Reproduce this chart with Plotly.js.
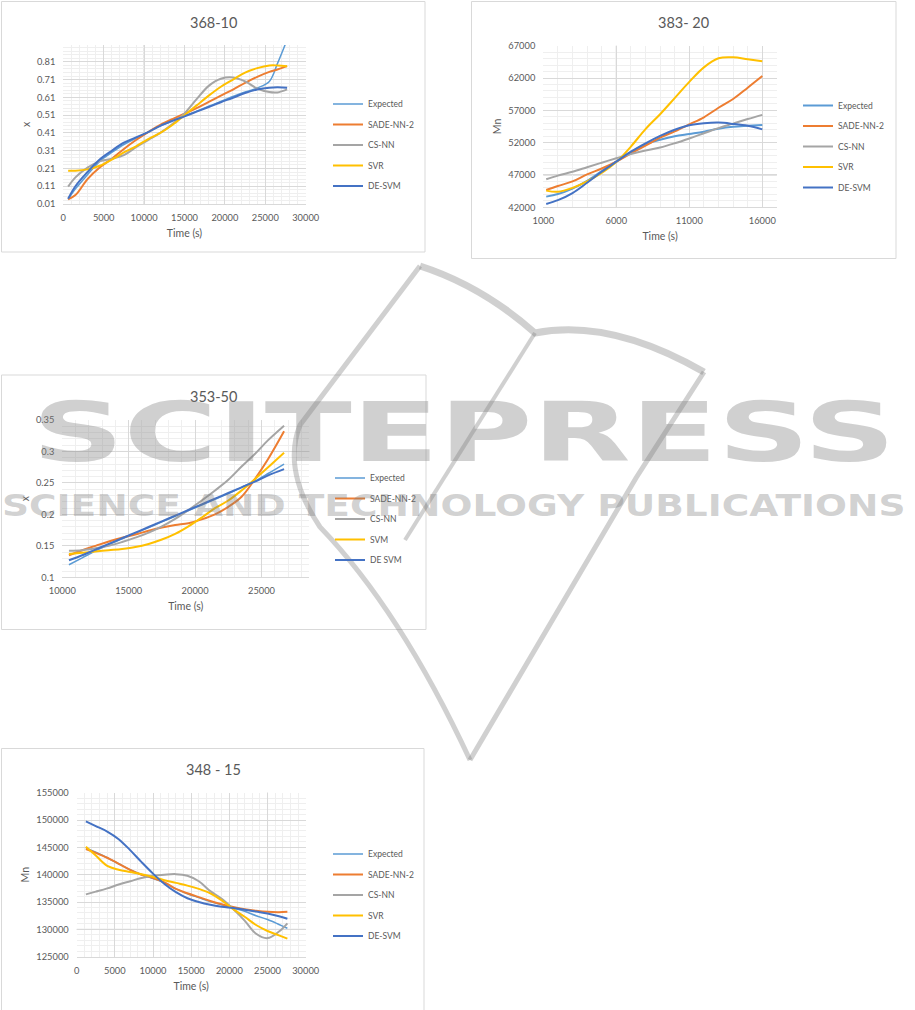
<!DOCTYPE html>
<html>
<head>
<meta charset="utf-8">
<script src="https://cdn.plot.ly/plotly-3.0.1.min.js"></script>
<style>
html,body{margin:0;padding:0;background:#fff;}
#wrap{position:relative;width:915px;height:1010px;overflow:hidden;}
#chart{width:915px;height:1010px;}
.wm{position:absolute;left:0;top:0;white-space:nowrap;font-family:'DejaVu Sans',sans-serif;font-weight:bold;color:rgba(125,125,125,0.36);pointer-events:none;transform-origin:0 0;line-height:1;}
</style>
</head>
<body>
<div id="wrap">
<div id="chart"></div>
<div class="wm" id="wm1">SCITEPRESS</div>
<div class="wm" id="wm2">SCIENCE AND TECHNOLOGY PUBLICATIONS</div>
</div>
<script>
// ---------------- DATA ----------------
const seriesNames = ['Expected', 'SADE-NN-2', 'CS-NN', 'SVR', 'DE-SVM'];
const seriesNames3 = ['Expected', 'SADE-NN-2', 'CS-NN', 'SVM', 'DE SVM'];
const seriesColors = ['#5B9BD5', '#ED7D31', '#A5A5A5', '#FFC000', '#4472C4'];

const chartTitles = ['368-10', '383- 20', '353-50', '348 - 15'];
const xTitle = 'Time (s)';
const yTitles = ['x', 'Mn', 'x', 'Mn'];

// Chart 1: 368-10
const c1Time = [600, 1500, 3000, 4500, 6000, 7500, 9000, 10500, 12000, 13500, 15000, 16500, 18000, 19500, 21000, 22500, 24000, 25500, 26500, 27700];
const c1Expected = [0.036, 0.095, 0.175, 0.25, 0.30, 0.345, 0.38, 0.415, 0.45, 0.478, 0.505, 0.532, 0.56, 0.588, 0.615, 0.64, 0.663, 0.70, 0.80, 0.935];
const c1Sade = [0.036, 0.06, 0.15, 0.215, 0.265, 0.32, 0.37, 0.415, 0.455, 0.488, 0.518, 0.55, 0.585, 0.62, 0.654, 0.692, 0.726, 0.754, 0.767, 0.786];
const c1CsNn = [0.108, 0.16, 0.215, 0.25, 0.265, 0.285, 0.33, 0.37, 0.41, 0.46, 0.52, 0.60, 0.675, 0.715, 0.722, 0.70, 0.66, 0.64, 0.638, 0.655];
const c1Svr = [0.197, 0.197, 0.205, 0.225, 0.26, 0.30, 0.335, 0.375, 0.41, 0.455, 0.51, 0.565, 0.62, 0.67, 0.71, 0.75, 0.775, 0.79, 0.79, 0.785];
const c1DeSvm = [0.04, 0.11, 0.19, 0.26, 0.31, 0.355, 0.385, 0.415, 0.45, 0.478, 0.503, 0.53, 0.556, 0.583, 0.608, 0.635, 0.655, 0.665, 0.667, 0.665];
const c1XTickLabels = ['0', '5000', '10000', '15000', '20000', '25000', '30000'];
const c1YTickLabels = ['0.01', '0.11', '0.21', '0.31', '0.41', '0.51', '0.61', '0.71', '0.81'];

// Chart 2: 383- 20
const c2Time = [1200, 2000, 3000, 4000, 5000, 6000, 7000, 8000, 9000, 10000, 11000, 12000, 13000, 14000, 15000, 16000];
const c2Expected = [43650, 44050, 44900, 46100, 47600, 49060, 50500, 51750, 52450, 53000, 53350, 53700, 54150, 54450, 54600, 54730];
const c2Sade = [44680, 45300, 46000, 47100, 48000, 49060, 50330, 51530, 52770, 53750, 54830, 55920, 57400, 58750, 60500, 62300];
const c2CsNn = [46330, 46900, 47500, 48200, 48900, 49580, 50250, 50800, 51250, 51900, 52650, 53450, 54250, 54950, 55650, 56300];
const c2Svr = [44580, 44400, 45000, 46000, 47300, 49000, 51400, 54100, 56400, 58900, 61400, 63650, 65050, 65200, 64900, 64600];
const c2DeSvm = [42520, 43100, 44200, 45800, 47500, 49060, 50600, 51900, 53050, 54000, 54700, 55000, 55100, 54900, 54600, 54050];
const c2XTickLabels = ['1000', '6000', '11000', '16000'];
const c2YTickLabels = ['42000', '47000', '52000', '57000', '62000', '67000'];

// Chart 3: 353-50
const c3Time = [10500, 11500, 12500, 13500, 14500, 15500, 16500, 17500, 18500, 19500, 20500, 21500, 22500, 23500, 24500, 25500, 26700];
const c3Expected = [0.12, 0.131, 0.142, 0.152, 0.161, 0.17, 0.179, 0.188, 0.197, 0.206, 0.215, 0.224, 0.233, 0.243, 0.253, 0.265, 0.28];
const c3Sade = [0.135, 0.143, 0.150, 0.157, 0.163, 0.168, 0.174, 0.179, 0.183, 0.186, 0.192, 0.200, 0.212, 0.228, 0.256, 0.288, 0.332];
const c3CsNn = [0.142, 0.143, 0.146, 0.150, 0.156, 0.163, 0.171, 0.181, 0.193, 0.207, 0.222, 0.238, 0.255, 0.276, 0.296, 0.318, 0.341];
const c3Svm = [0.137, 0.139, 0.141, 0.143, 0.145, 0.148, 0.153, 0.160, 0.169, 0.181, 0.195, 0.210, 0.222, 0.238, 0.256, 0.275, 0.298];
const c3DeSvm = [0.127, 0.135, 0.144, 0.153, 0.162, 0.171, 0.18, 0.189, 0.198, 0.207, 0.216, 0.225, 0.234, 0.243, 0.252, 0.262, 0.272];
const c3XTickLabels = ['10000', '15000', '20000', '25000'];
const c3YTickLabels = ['0.1', '0.15', '0.2', '0.25', '0.3', '0.35'];

// Chart 4: 348 - 15
const c4Time = [1200, 2500, 4000, 5500, 7000, 8500, 10000, 11500, 13000, 14500, 16000, 17500, 19000, 20500, 22000, 23500, 25000, 26500, 27600];
const c4Expected = [144900, 144100, 143100, 142000, 140900, 140000, 139300, 138500, 137400, 136500, 135800, 135100, 134500, 133900, 133300, 132500, 131800, 130900, 130200];
const c4Sade = [144700, 144000, 143100, 142000, 140900, 140000, 139400, 138600, 137400, 136600, 135900, 135200, 134600, 134100, 133700, 133400, 133200, 133150, 133200];
const c4CsNn = [136400, 136900, 137500, 138200, 138800, 139400, 139800, 140000, 140100, 139800, 138800, 137000, 135600, 133700, 131600, 129200, 128400, 129600, 131100];
const c4Svr = [145100, 143500, 141600, 140900, 140500, 140100, 139600, 139000, 138500, 138000, 137400, 136600, 135300, 133700, 132300, 130800, 129700, 128900, 128300];
const c4DeSvm = [149750, 148900, 147900, 146500, 144500, 142300, 140200, 138300, 136800, 135700, 135000, 134500, 134150, 133900, 133600, 133250, 132900, 132400, 131950];
const c4XTickLabels = ['0', '5000', '10000', '15000', '20000', '25000', '30000'];
const c4YTickLabels = ['125000', '130000', '135000', '140000', '145000', '150000', '155000'];

// ---------------- LAYOUT HELPERS ----------------
const W = 915, H = 1010;
const px = v => v / W;
const py = v => 1 - v / H;
const FONT = 'Lato, sans-serif';
const TXT = '#595959';

const traces = [];
function addChart(idx, t, series, labels, expectedWidth) {
  const s = idx === 1 ? '' : String(idx);
  series.forEach((ys, i) => {
    traces.push({
      type: 'scatter', mode: 'lines', x: t, y: ys, name: labels[i],
      xaxis: 'x' + s, yaxis: 'y' + s, legend: 'legend' + s,
      legendgroup: 'c' + idx + 's' + i,
      line: {color: seriesColors[i], width: i === 0 ? expectedWidth : 2, shape: 'spline', smoothing: 1},
      hoverinfo: 'skip'
    });
  });
}
addChart(1, c1Time, [c1Expected, c1Sade, c1CsNn, c1Svr, c1DeSvm], seriesNames, 1.5);
addChart(2, c2Time, [c2Expected, c2Sade, c2CsNn, c2Svr, c2DeSvm], seriesNames, 2);
addChart(3, c3Time, [c3Expected, c3Sade, c3CsNn, c3Svm, c3DeSvm], seriesNames3, 1.5);
addChart(4, c4Time, [c4Expected, c4Sade, c4CsNn, c4Svr, c4DeSvm], seriesNames, 1.5);

function axisBase(labels, range, minorTick0, minorDtick) {
  return {
    range: range, tickmode: 'array', tickvals: labels.map(Number), ticktext: labels,
    showgrid: true, gridcolor: '#d9d9d9', gridwidth: 1, zeroline: false, ticks: '',
    tickfont: {family: FONT, size: 9.3, color: TXT},
    minor: {tickmode: 'linear', tick0: minorTick0, dtick: minorDtick, showgrid: true, gridcolor: '#efefef', gridwidth: 1, ticks: ''},
    fixedrange: true
  };
}
function xAxis(dom, labels, range, minorTick0, anchor) {
  return Object.assign(axisBase(labels, range, minorTick0, 1000), {
    domain: [px(dom[0]), px(dom[1])], anchor: anchor,
    showline: true, linecolor: '#d9d9d9', linewidth: 1,
    ticklabelstandoff: 5,
    title: {text: xTitle, font: {family: FONT, size: 10.5, color: TXT}, standoff: 7}
  });
}
function yAxis(dom, labels, range, minorTick0, minorDtick, anchor, title) {
  return Object.assign(axisBase(labels, range, minorTick0, minorDtick), {
    domain: [py(dom[1]), py(dom[0])], anchor: anchor, showline: false,
    ticklabelstandoff: 7,
    title: {text: title, font: {family: FONT, size: 10.5, color: TXT}, standoff: 4}
  });
}

const layout = {
  width: W, height: H, autosize: false,
  margin: {l: 0, r: 0, t: 0, b: 0, pad: 0},
  paper_bgcolor: '#ffffff', plot_bgcolor: 'rgba(0,0,0,0)',
  font: {family: FONT, color: TXT},
  xaxis: xAxis([63.3, 305.7], c1XTickLabels, [0, 30000], 0, 'y'),
  yaxis: yAxis([45, 204], c1YTickLabels, [0.01, 0.905], 0.01, 0.02, 'x', yTitles[0]),
  xaxis2: xAxis([543.3, 776.9], c2XTickLabels, [1000, 17000], 1000, 'y2'),
  yaxis2: yAxis([45.7, 207.3], c2YTickLabels, [42000, 67000], 42000, 1000, 'x2', yTitles[1]),
  xaxis3: xAxis([62.3, 309.3], c3XTickLabels, [10000, 28600], 10000, 'y3'),
  yaxis3: yAxis([420, 577.3], c3YTickLabels, [0.1, 0.35], 0.1, 0.01, 'x3', yTitles[2]),
  xaxis4: xAxis([76.7, 305.7], c4XTickLabels, [0, 30000], 0, 'y4'),
  yaxis4: yAxis([792.7, 956.7], c4YTickLabels, [125000, 155000], 125000, 1000, 'x4', yTitles[3]),
  showlegend: true,
  annotations: [],
  shapes: []
};

function legendAt(x, y) {
  return {x: px(x), y: py(y), xref: 'paper', yref: 'paper', xanchor: 'left', yanchor: 'top',
    orientation: 'v', bgcolor: 'rgba(0,0,0,0)', borderwidth: 0, tracegroupgap: 1.5,
    font: {family: FONT, size: 8.5, color: TXT}};
}
layout.legend = legendAt(328, 89.5);
layout.legend2 = legendAt(798, 91);
layout.legend3 = legendAt(330, 463.5);
layout.legend4 = legendAt(328, 839.5);

// chart titles
const titlePos = [[213, 22], [683, 22], [213, 396], [213, 769]];
chartTitles.forEach((t, i) => {
  layout.annotations.push({text: t, x: px(titlePos[i][0]), y: py(titlePos[i][1]), xref: 'paper', yref: 'paper',
    showarrow: false, xanchor: 'center', yanchor: 'middle', font: {family: FONT, size: 14.5, color: TXT}});
});

// chart frames
const frames = [[1.5, 1.5, 425, 252], [471.5, 1.5, 896, 258.5], [1.5, 375, 426, 629.5], [1.5, 748.5, 424, 1012]];
frames.forEach(f => {
  layout.shapes.push({type: 'rect', xref: 'paper', yref: 'paper', x0: px(f[0]), x1: px(f[2]), y0: py(f[3]), y1: py(f[1]),
    line: {color: '#d9d9d9', width: 1}, fillcolor: 'rgba(0,0,0,0)', layer: 'below'});
});

// slightly darker gridlines visible in the original raster
const darkV = [['x', 10000], ['x2', 6000], ['x4', 25000]];
const darkH = [['y2', 47000], ['y3', 0.3], ['y4', 130000]];
darkV.forEach(d => layout.shapes.push({type: 'line', xref: d[0], yref: d[0].replace('x', 'y') + ' domain', x0: d[1], x1: d[1], y0: 0, y1: 1, line: {color: '#c4c4c4', width: 1}, layer: 'below'}));
darkH.forEach(d => layout.shapes.push({type: 'line', yref: d[0], xref: d[0].replace('y', 'x') + ' domain', y0: d[1], y1: d[1], x0: 0, x1: 1, line: {color: '#c4c4c4', width: 1}, layer: 'below'}));

// watermark logo strokes (decoration, pixel paths converted to paper coords)
function pathPx(cmds) {
  return cmds.map(c => c[0] + ' ' + c.slice(1).map((v, k) => (k % 2 === 0 ? px(v) : py(v)).toFixed(5)).join(',')).join(' ');
}
const wmColor = 'rgba(125,125,125,0.36)';
const logoPaths = [
  {w: 7, p: [['M', 420, 266], ['Q', 482, 286, 535, 333], ['Q', 610, 318, 704, 372]]},
  {w: 5, p: [['M', 420, 266], ['L', 300, 425], ['Q', 282, 470, 320, 527], ['Q', 400, 610, 470, 760]]},
  {w: 5, p: [['M', 704, 372], ['L', 636, 478], ['L', 470, 760]]},
  {w: 4, p: [['M', 535, 333], ['L', 405, 540]]}
];
logoPaths.forEach(lp => layout.shapes.push({type: 'path', xref: 'paper', yref: 'paper', path: pathPx(lp.p),
  line: {color: wmColor, width: lp.w}, layer: 'above'}));

Plotly.newPlot('chart', traces, layout, {staticPlot: true, displayModeBar: false}).then(() => {
  function fit(id, left, capTop, width, capH) {
    const el = document.getElementById(id);
    const fs = capH / 0.729;
    el.style.fontSize = fs + 'px';
    el.style.left = left + 'px';
    el.style.top = (capTop - 0.117 * fs) + 'px';
    const w = el.offsetWidth;
    el.style.transform = 'scaleX(' + (width / w) + ')';
  }
  fit('wm1', 32, 402, 863, 60);
  fit('wm2', 2, 495, 903, 22);
});
</script>
</body>
</html>
